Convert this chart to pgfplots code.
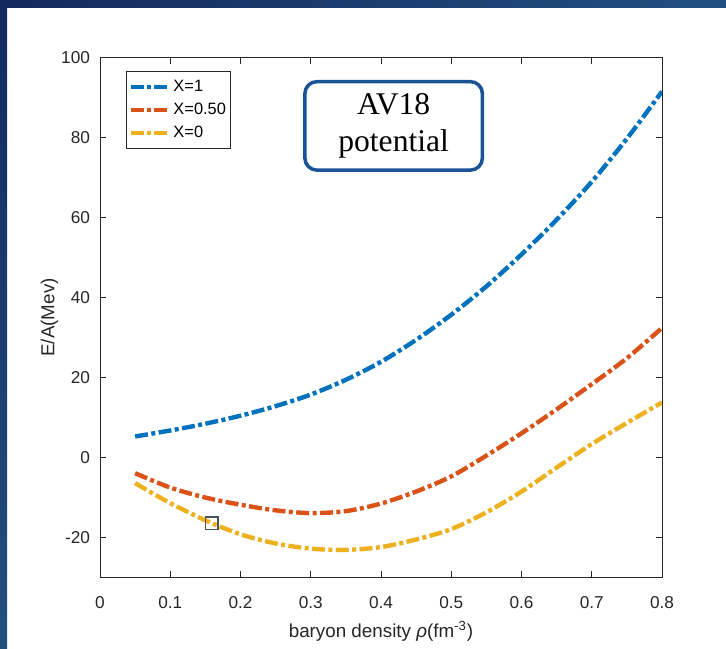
\documentclass[border=0pt]{standalone}
\usepackage{fontspec}
\setmainfont{Liberation Sans}
\newfontfamily\boxfont{Liberation Serif}
\usepackage{pgfplots}
\pgfplotsset{compat=1.18}
\definecolor{mblue}{rgb}{0,0.447,0.741}
\definecolor{morange}{rgb}{0.85,0.325,0.098}
\definecolor{myellow}{rgb}{0.929,0.694,0.125}
\definecolor{axgray}{HTML}{262626}
\definecolor{boxblue}{HTML}{1B5496}
\definecolor{navyA}{HTML}{14295E}
\definecolor{navyB}{HTML}{21507E}
\definecolor{mk}{RGB}{72,84,84}
\begin{document}
\begin{tikzpicture}
\useasboundingbox (0,0) rectangle (363pt,324pt);
\shade[left color=navyA, right color=navyB] (0,320pt) rectangle (363pt,324pt);
\shade[top color=navyA, bottom color=navyB] (0,0) rectangle (3.5pt,324pt);
\begin{axis}[
  at={(50pt,35.5pt)}, anchor=south west,
  scale only axis, width=281pt, height=259.5pt,
  xmin=0, xmax=0.8, ymin=-30, ymax=100,
  xtick={0,0.1,0.2,0.3,0.4,0.5,0.6,0.7,0.8},
  xticklabels={0,0.1,0.2,0.3,0.4,0.5,0.6,0.7,0.8},
  ytick={-20,0,20,40,60,80,100},
  yticklabels={-20,0,20,40,60,80,100},
  tick align=inside, major tick length=3pt,
  axis line style={axgray, line width=0.5pt},
  tick style={axgray, line width=0.5pt},
  tick label style={font=\fontsize{8.6}{10}\selectfont, text=axgray},
  xticklabel style={yshift=-6pt},
  yticklabel style={xshift=-1.5pt},
  xlabel={baryon density \textit{ρ}(fm\textsuperscript{-3})},
  ylabel={E/A(Mev)},
  xlabel style={at={(axis description cs:0.5,-0.1175)}, anchor=base, font=\fontsize{9.4}{11}\selectfont, text=axgray},
  ylabel style={at={(axis description cs:-0.0900,0.5)}, anchor=center, font=\fontsize{9.4}{11}\selectfont, text=axgray},
  legend style={at={(axis cs:0.037,96.8)}, anchor=north west, draw=axgray, line width=0.5pt,
    font=\fontsize{8.2}{9}\selectfont, inner xsep=1pt, inner ysep=2pt, row sep=0pt,
    nodes={inner sep=1.3pt, text height=6.8pt, text depth=2.2pt}},
  legend cell align=left,
  legend image code/.code={\draw[#1] (0pt,0pt) -- (19pt,0pt);},
]
\addplot[mblue, line width=2.2pt, dash pattern=on 6.5pt off 1.7pt on 2pt off 1.7pt, smooth] coordinates {
(0.05,5.2) (0.10,6.7) (0.15,8.4) (0.20,10.4) (0.25,12.8) (0.30,15.7) (0.35,19.4) (0.40,23.9)
(0.45,29.4) (0.50,35.7) (0.55,42.8) (0.60,50.8) (0.65,59.5) (0.70,69.0) (0.75,79.8) (0.80,91.6)};
\addlegendentry{X=1}
\addplot[morange, line width=2.2pt, dash pattern=on 6.5pt off 1.7pt on 2pt off 1.7pt, smooth] coordinates {
(0.05,-4.0) (0.10,-7.6) (0.15,-10.1) (0.20,-11.9) (0.25,-13.3) (0.30,-14.0) (0.35,-13.5) (0.40,-11.6)
(0.45,-8.6) (0.50,-4.8) (0.55,0.4) (0.60,6.0) (0.65,12.0) (0.70,18.3) (0.75,24.8) (0.80,32.4)};
\addlegendentry{X=0.50}
\addplot[myellow, line width=2.2pt, dash pattern=on 6.5pt off 1.7pt on 2pt off 1.7pt, smooth] coordinates {
(0.05,-6.5) (0.10,-11.5) (0.15,-15.8) (0.20,-19.3) (0.25,-21.6) (0.30,-22.9) (0.35,-23.2) (0.40,-22.5)
(0.45,-20.6) (0.50,-18.0) (0.55,-13.8) (0.60,-8.6) (0.65,-2.6) (0.70,3.3) (0.75,8.6) (0.80,13.7)};
\addlegendentry{X=0}
\addplot[only marks, mark=square, mark size=3.2pt, mark options={draw=mk, line width=0.8pt, solid}, forget plot] coordinates {(0.159,-16.5)};
\node[draw=boxblue, line width=1.75pt, rounded corners=6pt, minimum width=88.75pt, minimum height=44.25pt,
  align=center, fill=white, inner sep=2pt, font=\boxfont\fontsize{15.8}{18.3}\selectfont] at (axis cs:0.418,83) {AV18\\potential};
\end{axis}
\end{tikzpicture}
\end{document}
